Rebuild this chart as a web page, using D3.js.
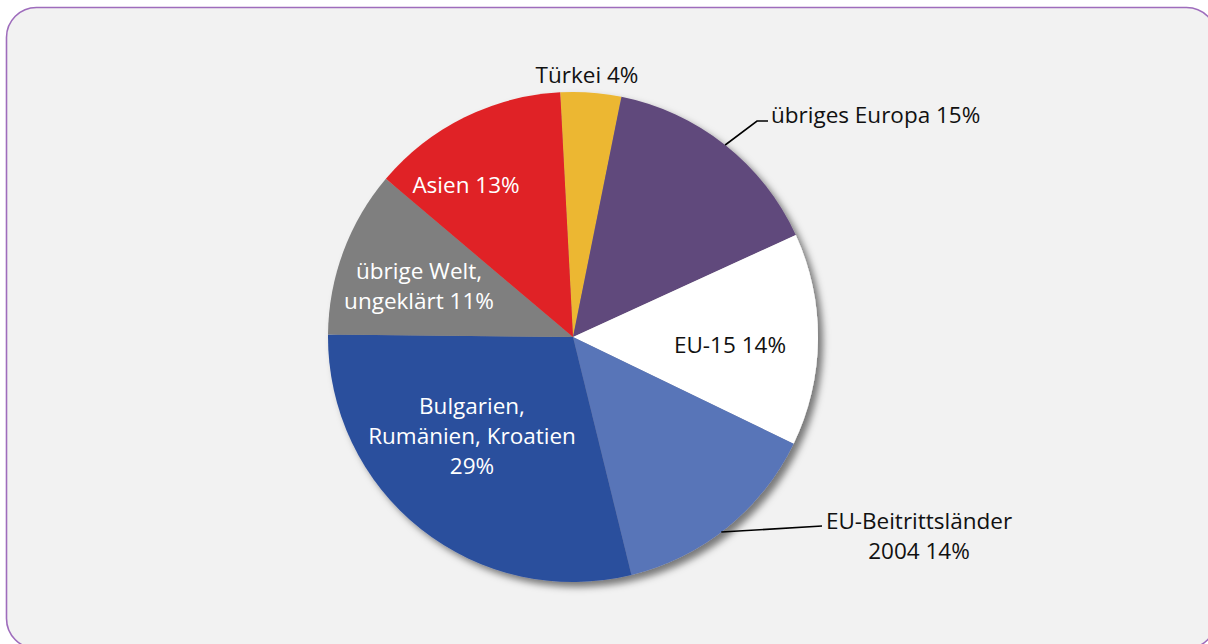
<!DOCTYPE html>
<html>
<head>
<meta charset="utf-8">
<script src="https://cdn.jsdelivr.net/npm/d3@7/dist/d3.min.js"></script>
<style>
  html, body { margin: 0; padding: 0; background: #ffffff; }
  svg { display: block; }
  text { font-family: "Open Sans", "Noto Sans", sans-serif; font-size: 22.5px; }
</style>
</head>
<body>
<svg id="chart" width="1208" height="644"></svg>
<script>
// Shares of regions of origin, clockwise from the top
const categories = ["Türkei", "übriges Europa", "EU-15", "EU-Beitrittsländer 2004",
                    "Bulgarien, Rumänien, Kroatien", "übrige Welt, ungeklärt", "Asien"];
const values = [4, 15, 14, 14, 29, 11, 13];
const labelLines = [
  ["Türkei 4%"],
  ["übriges Europa 15%"],
  ["EU-15 14%"],
  ["EU-Beitrittsländer", "2004 14%"],
  ["Bulgarien,", "Rumänien, Kroatien", "29%"],
  ["übrige Welt,", "ungeklärt 11%"],
  ["Asien 13%"]
];
const colors = ["#ecb733", "#61497b", "#ffffff", "#5874b8", "#2c4f9d", "#7f7f7f", "#e02325"];
const textColors = ["#111", "#111", "#111", "#111", "#fff", "#fff", "#fff"];

const W = 1208, H = 644;
const cx = 573, cy = 337, R = 245;
const svg = d3.select("#chart");

// Panel background with rounded purple border
svg.append("rect")
  .attr("x", 6.5).attr("y", 7.5)
  .attr("width", 1210).attr("height", 641)
  .attr("rx", 30).attr("ry", 30)
  .attr("fill", "#f2f2f2")
  .attr("stroke", "#9e6cbc").attr("stroke-width", 1.6);

// Soft drop shadow under the pie
const defs = svg.append("defs");
const f = defs.append("filter").attr("id", "shadow")
  .attr("x", "-10%").attr("y", "-10%").attr("width", "125%").attr("height", "125%");
f.append("feDropShadow")
  .attr("dx", 5).attr("dy", 5).attr("stdDeviation", 3.5)
  .attr("flood-color", "#000").attr("flood-opacity", 0.5);

const pie = d3.pie().sort(null).value(d => d)
  .startAngle(-3 * Math.PI / 180)
  .endAngle(2 * Math.PI - 3 * Math.PI / 180);
const arcs = pie(values);
const arc = d3.arc().innerRadius(0).outerRadius(R);

const g = svg.append("g").attr("transform", `translate(${cx},${cy})`);
const slices = g.append("g").attr("filter", "url(#shadow)");
slices.selectAll("path")
  .data(arcs)
  .join("path")
  .attr("d", arc)
  .attr("fill", (d, i) => colors[i]);

// Label anchors (offsets from the pie centre) and alignment
const labelLayout = [
  { x: 14,  y: -262, anchor: "middle" },
  { x: 198, y: -222, anchor: "start" },
  { x: 157, y: 8,    anchor: "middle" },
  { x: 346, y: 199,  anchor: "middle" },
  { x: -101, y: 99,  anchor: "middle" },
  { x: -154, y: -51, anchor: "middle" },
  { x: -107, y: -152, anchor: "middle" }
];
const lineH = 30;

const labels = g.append("g");
labelLines.forEach((lines, i) => {
  const L = labelLayout[i];
  const t = labels.append("text")
    .attr("text-anchor", L.anchor)
    .attr("fill", textColors[i]);
  lines.forEach((s, k) => {
    t.append("tspan")
      .attr("x", L.x)
      .attr("y", L.y + (k - (lines.length - 1) / 2) * lineH)
      .attr("dy", "0.35em")
      .text(s);
  });
});

// Leader lines for the two labels placed outside the pie
function edgePoint(i, frac) {
  const a = arcs[i].startAngle + (arcs[i].endAngle - arcs[i].startAngle) * frac;
  return [Math.sin(a) * R, -Math.cos(a) * R];
}
const p1 = edgePoint(1, 0.5);
const p3 = edgePoint(3, 0.535);
const line = d3.line();
g.append("path")
  .attr("d", line([p1, [184, -216], [195, -216]]))
  .attr("fill", "none").attr("stroke", "#000").attr("stroke-width", 1.6);
g.append("path")
  .attr("d", line([p3, [249, 189]]))
  .attr("fill", "none").attr("stroke", "#000").attr("stroke-width", 1.6);
</script>
</body>
</html>
